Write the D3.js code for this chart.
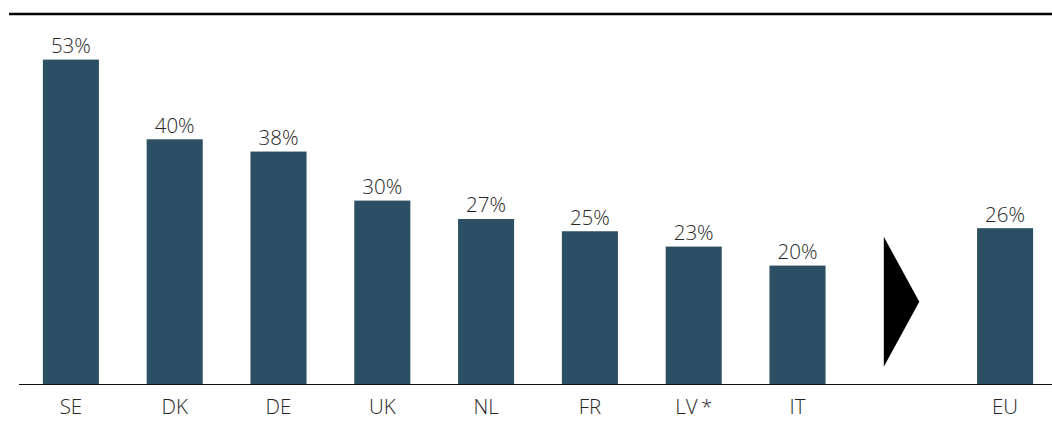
<!DOCTYPE html>
<html>
<head>
<meta charset="utf-8">
<script src="https://cdn.jsdelivr.net/npm/d3@7"></script>
<style>
  body { margin: 0; background: #fff; }
  svg text { font-family: "Open Sans", "Lato", sans-serif; font-weight: 300; fill: #262626; }
</style>
</head>
<body>
<svg id="chart" width="1052" height="436"></svg>
<script>
// categories, with an empty slot for the arrow before EU
const categories = ["SE", "DK", "DE", "UK", "NL", "FR", "LV*", "IT", "", "EU"];
const values = [53, 40, 38, 30, 27, 25, 22.5, 19.4, null, 25.5];
const labels = ["53%", "40%", "38%", "30%", "27%", "25%", "23%", "20%", "", "26%"];
const tickLabels = ["SE", "DK", "DE", "UK", "NL", "FR", "LV\u2009*", "IT", "", "EU"];

const width = 1052;
const height = 436;
const baseY = 384.5;

const svg = d3.select("#chart");

const xScale = d3.scaleBand()
	.domain(categories)
	.range([19, 1057])
	.paddingInner(0.46)
	.paddingOuter(0.23);

const yScale = d3.scaleLinear().domain([0, 60]).range([baseY, 16.7]);

// top rule
svg.append("line")
	.attr("x1", 9).attr("x2", width)
	.attr("y1", 14).attr("y2", 14)
	.attr("stroke", "#000").attr("stroke-width", 2.5);

const data = categories.map((c, i) => ({ cat: c, value: values[i], label: labels[i], tick: tickLabels[i] }));
const barData = data.filter((d) => d.value != null);

svg.selectAll(".bar")
	.data(barData)
	.enter()
	.append("rect")
	.attr("class", "bar")
	.attr("x", (d) => xScale(d.cat))
	.attr("y", (d) => yScale(d.value))
	.attr("width", xScale.bandwidth())
	.attr("height", (d) => yScale(0) - yScale(d.value))
	.attr("fill", "#2c4f63");

svg.selectAll(".val")
	.data(barData)
	.enter()
	.append("text")
	.attr("class", "val")
	.attr("x", (d) => xScale(d.cat) + xScale.bandwidth() / 2)
	.attr("y", (d) => yScale(d.value) - 6.5)
	.attr("text-anchor", "middle")
	.style("font-size", "20.5px")
	.text((d) => d.label);

// baseline
svg.append("line")
	.attr("x1", 19).attr("x2", width)
	.attr("y1", baseY).attr("y2", baseY)
	.attr("stroke", "#111").attr("stroke-width", 1.2);

// category labels
svg.selectAll(".cat")
	.data(data)
	.enter()
	.append("text")
	.attr("class", "cat")
	.attr("x", (d) => xScale(d.cat) + xScale.bandwidth() / 2)
	.attr("y", 414)
	.attr("text-anchor", "middle")
	.style("font-size", "20.5px")
	.text((d) => d.tick);

// arrow in the empty slot
const ax = xScale("") + xScale.bandwidth() / 2;
const ay = yScale(13.5);
svg.append("path")
	.attr("d", `M${ax - 17.5},${ay - 65} L${ax + 18},${ay} L${ax - 17.5},${ay + 65} Z`)
	.attr("fill", "#000");
</script>
</body>
</html>
